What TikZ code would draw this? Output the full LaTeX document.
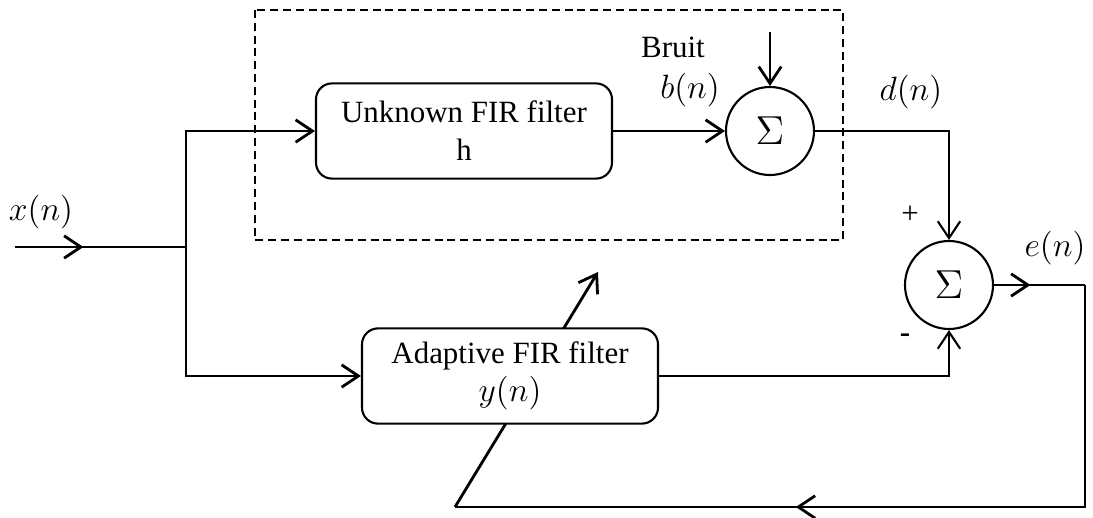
\documentclass[tikz,border=0pt]{standalone}
\usepackage{fontspec}
\setmainfont{Liberation Serif}
\usetikzlibrary{arrows.meta,decorations.markings}

\begin{document}
\begin{tikzpicture}[x=0.125mm, y=-0.125mm, line width=0.75pt,
    >={Straight Barb[length=2.1mm,width=2.8mm]},
    font=\fontsize{11}{13.5}\selectfont]

    \tikzstyle{block} = [draw, rounded corners=2mm, fill=white, minimum width=37mm, minimum height=11.9mm, align=center, inner sep=0pt]
    \tikzstyle{adder} = [draw, circle, fill=white, minimum size=11mm, inner sep=0pt, font=\fontsize{14}{16}\selectfont]
    \tikzstyle{sig} = [line width=1pt]
    \tikzstyle{lbl} = [font=\fontsize{12.2}{14}\selectfont]
    \tikzset{midarrow/.style={postaction={decorate}, decoration={markings, mark=at position #1 with {\arrow[line width=1pt]{>}}}}}

    \useasboundingbox (0,0) rectangle (1093,518);

    \coordinate (in) at (15,247);
    \coordinate (split) at (186,247);
    \coordinate (noise) at (770,32);
    \coordinate (corner) at (1085,285);
    \coordinate (fb) at (455,507);
    \coordinate (tip) at (598,272);

    % unknown system
    \draw[dashed, dash pattern=on 1mm off 0.6mm] (255,10) rectangle (843,240);

    % adaptation line, behind the filter
    \draw[sig,->] (fb) -- (tip);

    \node[block] (ufir) at (464,131) {Unknown FIR filter\\h};
    \node[block] (afir) at (510,376) {Adaptive FIR filter\\{\fontsize{12.2}{14}\selectfont$y(n)$}};
    \node[adder] (sum1) at (770,131) {$\Sigma$};
    \node[adder] (sum2) at (949,285) {$\Sigma$};

    \draw[sig,midarrow=0.4] (in) -- (split);
    \draw[sig,->] (split) |- (ufir.west);
    \draw[sig,->] (split) |- (afir.west);
    \draw[sig,->] (ufir) -- (sum1);
    \draw[sig,->] (noise) -- (sum1.north);
    \draw[->] (sum1.east) -| (sum2.north);
    \draw[->] (afir.east) -| (sum2.south);
    \draw[midarrow=0.4] (sum2.east) -- (corner);
    \draw[midarrow=0.6] (corner) |- (fb);

    \node[lbl] (xlbl) at (41,212) {$x(n)$};
    \node (bruit) at (673,47) {Bruit};
    \node[lbl] (blbl) at (690,90) {$b(n)$};
    \node[lbl] (dlbl) at (911,92) {$d(n)$};
    \node[lbl] (elbl) at (1055,248) {$e(n)$};
    \node (plus) at (910,215) {+};
    \node (minus) at (905,338) {\textbf{-}};
\end{tikzpicture}
\end{document}
